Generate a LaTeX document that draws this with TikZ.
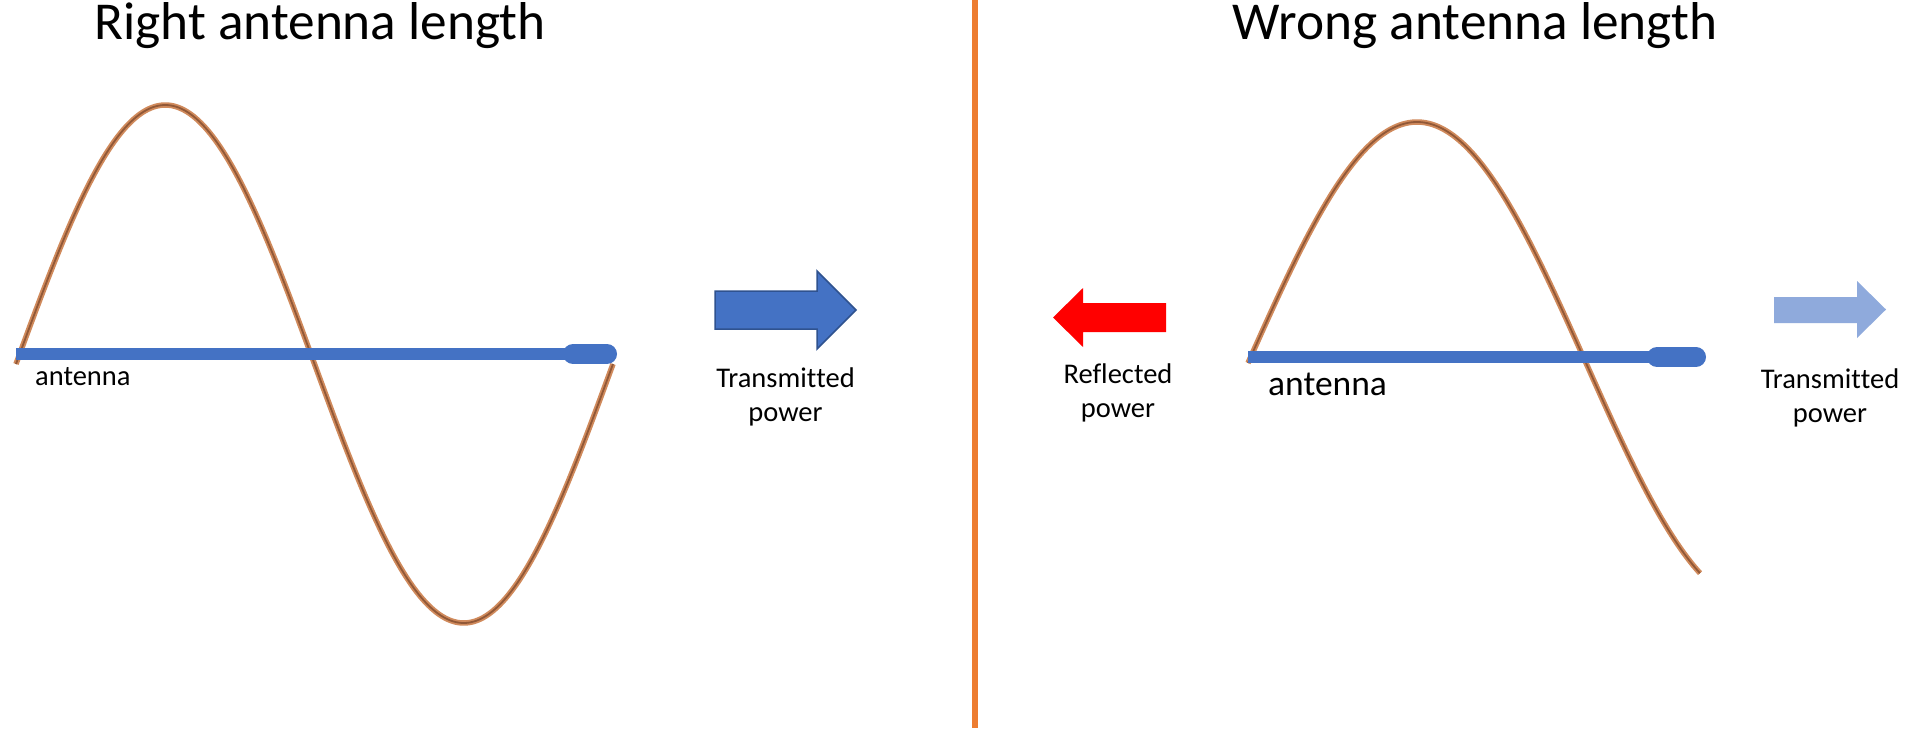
\documentclass[tikz,border=0pt]{standalone}
\usepackage{fontspec}
\setmainfont[Ligatures={NoCommon}, Contextuals={NoAlternate}]{Carlito}
\definecolor{antblue}{HTML}{4472C4}
\definecolor{antedge}{HTML}{2F528F}
\definecolor{lightblue}{HTML}{8FAADC}
\definecolor{divider}{HTML}{ED7D31}
\definecolor{waveout}{RGB}{208,138,92}
\definecolor{wavein}{RGB}{145,88,55}
\tikzset{
  wavebase/.style={waveout, line width=5.5pt, line join=round},
  wavecore/.style={wavein, line width=1.8pt, line join=round},
  rod/.style={antblue, line width=12pt, line cap=butt},
  knob/.style={antblue, line width=20pt, line cap=round},
  title/.style={inner sep=0pt, anchor=base, font=\fontsize{53.3}{64}\selectfont},
  lbl/.style={inner sep=0pt, anchor=base, font=\fontsize{28.5}{34}\selectfont},
}
\begin{document}
\begin{tikzpicture}[x=1pt, y=-1pt]
\useasboundingbox (0,0) rectangle (1911,728);
\fill[white] (0,0) rectangle (1911,728);

% panel divider
\draw[divider, line width=6pt] (975,0) -- (975,728);

% ---------- left panel: matched antenna ----------
\node[title] (titleL) at (320,39) {Right antenna length};
\draw[wavebase] plot[domain=16:613, samples=240] (\x, {364 - 259*sin((\x-16)/597*360)});
\draw[wavecore] plot[domain=16:613, samples=240] (\x, {364 - 259*sin((\x-16)/597*360)});
\coordinate (rodLa) at (16,354);
\coordinate (rodLb) at (566,354);
\coordinate (knobLa) at (573,354);
\coordinate (knobLb) at (607,354);
\draw[rod] (rodLa) -- (rodLb);
\draw[knob] (knobLa) -- (knobLb);
\node[lbl, anchor=base west] (antL) at (35,385) {antenna};

% transmitted power arrow
\filldraw[fill=antblue, draw=antedge, line width=1.5pt, line join=miter]
  (715,291) -- (817,291) -- (817,271) -- (856,310) -- (817,349) -- (817,329) -- (715,329) -- cycle;
\node[lbl] (txL1) at (785.5,387) {Transmit\kern0pt ted};
\node[lbl] (txL2) at (785.5,421) {power};

% ---------- right panel: mismatched antenna ----------
\node[title] (titleR) at (1475,39) {Wrong antenna length};
\draw[wavebase] plot[domain=1248:1700, samples=200] (\x, {363 - 241*sin((\x-1248)/676*360)});
\draw[wavecore] plot[domain=1248:1700, samples=200] (\x, {363 - 241*sin((\x-1248)/676*360)});
\coordinate (rodRa) at (1248,357);
\coordinate (rodRb) at (1652,357);
\coordinate (knobRa) at (1657,357);
\coordinate (knobRb) at (1696,357);
\draw[rod] (rodRa) -- (rodRb);
\draw[knob] (knobRa) -- (knobRb);
\node[inner sep=0pt, anchor=base west, font=\fontsize{35.5}{42}\selectfont] (antR) at (1268,395) {antenna};

% reflected power arrow
\fill[red] (1053,317.5) -- (1083,288) -- (1083,303) -- (1166,303) -- (1166,332) -- (1083,332) -- (1083,347) -- cycle;
\node[lbl] (rfR1) at (1118,383) {Reflected};
\node[lbl] (rfR2) at (1118,417) {power};

% weak transmitted power arrow
\fill[lightblue] (1774,297) -- (1857,297) -- (1857,281) -- (1886,309.5) -- (1857,338) -- (1857,323) -- (1774,323) -- cycle;
\node[lbl] (txR1) at (1830,388) {Transmit\kern0pt ted};
\node[lbl] (txR2) at (1830,422) {power};
\end{tikzpicture}
\end{document}
